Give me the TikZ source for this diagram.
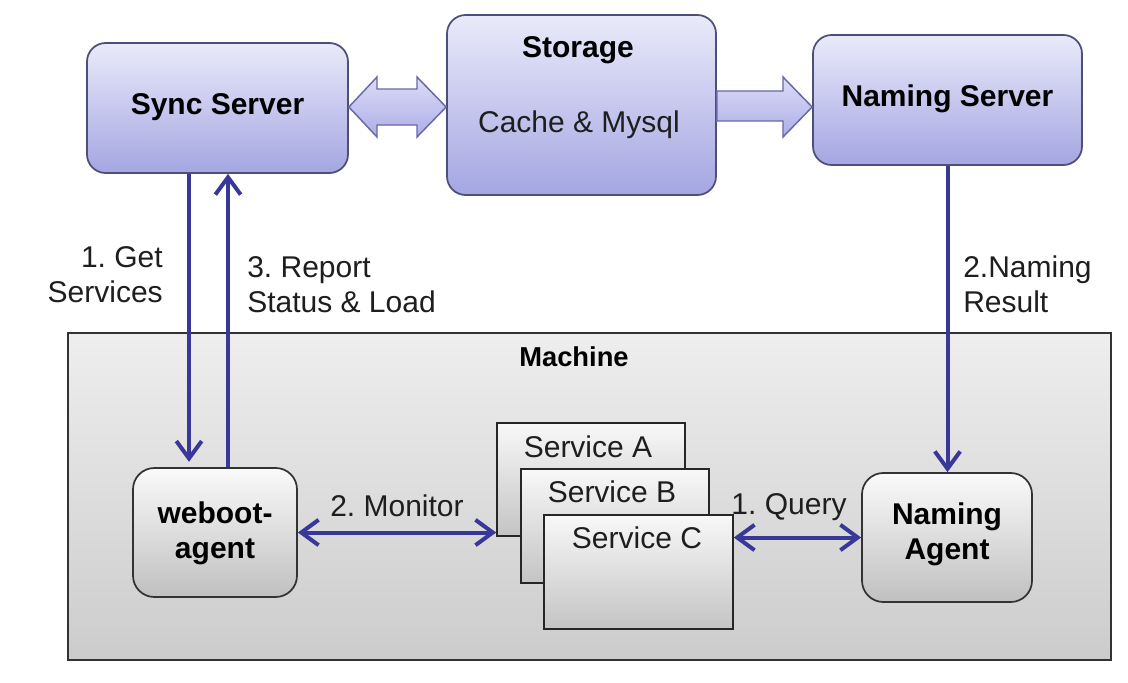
\documentclass[tikz,border=0pt]{standalone}
\usepackage{fontspec}
\setmainfont{Liberation Sans}
\usetikzlibrary{arrows.meta,calc}
\definecolor{arrowblue}{RGB}{56,56,152}
\definecolor{boxtop}{RGB}{234,234,250}
\definecolor{boxbot}{RGB}{164,166,226}
\definecolor{boxline}{RGB}{78,78,122}
\definecolor{blocktop}{RGB}{220,220,248}
\definecolor{blockbot}{RGB}{172,174,230}
\definecolor{blockline}{RGB}{104,104,168}
\definecolor{machtop}{RGB}{238,238,238}
\definecolor{machbot}{RGB}{204,204,204}
\definecolor{agtop}{RGB}{250,250,250}
\definecolor{agbot}{RGB}{192,192,192}
\definecolor{svctop}{RGB}{248,248,248}
\definecolor{svcbot}{RGB}{196,196,196}
\definecolor{textcol}{RGB}{30,30,30}
\frenchspacing
\begin{document}
\begin{tikzpicture}[x=0.75pt,y=-0.75pt,
  txt/.style={font=\fontsize{22.5}{26.5}\selectfont, text=textcol, inner sep=0pt},
  btxt/.style={font=\fontsize{22.5}{26.5}\selectfont\bfseries, text=black, inner sep=0pt, align=center},
  topbox/.style={draw=boxline, line width=1.3pt, rounded corners=14pt, top color=boxtop, bottom color=boxbot, inner sep=0pt},
  agentbox/.style={draw=black!80, line width=1.3pt, rounded corners=16pt, top color=agtop, bottom color=agbot, inner sep=0pt},
  svcbox/.style={draw=black!85, line width=1.2pt, top color=svctop, bottom color=svcbot, inner sep=0pt},
  machbox/.style={draw=black!80, line width=1.3pt, top color=machtop, bottom color=machbot, inner sep=0pt},
  blockarrow/.style={draw=blockline, line width=1.1pt, top color=blocktop, bottom color=blockbot, line join=miter},
  flow/.style={draw=arrowblue, line width=3pt, -{Straight Barb[length=13pt,width=19pt]}},
  flowboth/.style={draw=arrowblue, line width=3pt, {Straight Barb[length=13pt,width=19pt]}-{Straight Barb[length=13pt,width=19pt]}}
]
\useasboundingbox (0,0) rectangle (1128,682);
\fill[white] (0,0) rectangle (1128,682);

% machine
\node[machbox, minimum width=1043*0.75pt, minimum height=327*0.75pt] (machine) at (589.5,496.5) {};
\node[btxt, font=\fontsize{20.5}{24}\selectfont\bfseries] (machinetitle) at (574,357) {Machine};

% top boxes
\node[topbox, minimum width=261*0.75pt, minimum height=130*0.75pt] (sync) at (217.5,108) {};
\node[btxt] (synctext) at (217.5,107) {Sync Server};
\node[topbox, minimum width=269*0.75pt, minimum height=180*0.75pt] (storage) at (581.5,105) {};
\node[btxt] (storagetitle) at (578,50) {Storage};
\node[txt] (storagesub) at (579,125) {Cache \& Mysql};
\node[topbox, minimum width=269*0.75pt, minimum height=130*0.75pt] (nserver) at (947.5,100) {};
\node[btxt] (nservertext) at (947.5,99) {Naming Server};

% block arrows
\draw[blockarrow] (sync.east |- 0,107) -- (377,77) -- (377,89) -- (417,89) -- (417,77)
  -- (storage.west |- 0,107) -- (417,137) -- (417,125) -- (377,125) -- (377,137) -- cycle;
\draw[blockarrow] (storage.east |- 0,91) -- (783,91) -- (783,77) -- (nserver.west |- 0,107)
  -- (783,137) -- (783,121) -- (storage.east |- 0,121) -- cycle;

% agents
\node[agentbox, minimum width=164*0.75pt, minimum height=129*0.75pt] (weboot) at (215,532.5) {};
\node[btxt] (weboottext) at (215,533) {weboot-\\agent};
\node[agentbox, minimum width=170*0.75pt, minimum height=129*0.75pt] (nagent) at (947,537.5) {};
\node[btxt] (nagenttext) at (947,534) {Naming\\Agent};

% services
\node[svcbox, minimum width=188*0.75pt, minimum height=113*0.75pt] (svca) at (591,479.5) {};
\node[txt] (svcatext) at (588,447) {Service A};
\node[svcbox, minimum width=188*0.75pt, minimum height=114*0.75pt] (svcb) at (615,526) {};
\node[txt] (svcbtext) at (612,492) {Service B};
\node[svcbox, minimum width=189*0.75pt, minimum height=114*0.75pt] (svcc) at (638.5,572) {};
\node[txt] (svcctext) at (637,538) {Service C};

% connectors
\coordinate (getx) at (189,0);
\coordinate (repx) at (228,0);
\draw[flow, shorten >=4pt] (sync.south -| getx) -- (weboot.north -| getx);
\draw[flow] (weboot.north -| repx) -- (sync.south -| repx);
\draw[flow] (nserver.south) -- (nagent.north -| nserver.south);
\draw[flowboth] (weboot.east) -- (weboot.east -| svca.west);
\draw[flowboth] (nagent.west -| svcc.east) -- (nagent.west);

% labels
\node[txt, anchor=east, align=right] (getlabel) at (163,275) {1. Get\\Services};
\node[txt, anchor=west, align=left] (replabel) at (247,285) {3. Report\\Status \& Load};
\node[txt, anchor=west, align=left] (reslabel) at (963,284) {2.Naming\\Result};
\node[txt] (monlabel) at (397,506) {2. Monitor};
\node[txt] (querylabel) at (789,507) {1. Query};
\end{tikzpicture}
\end{document}
